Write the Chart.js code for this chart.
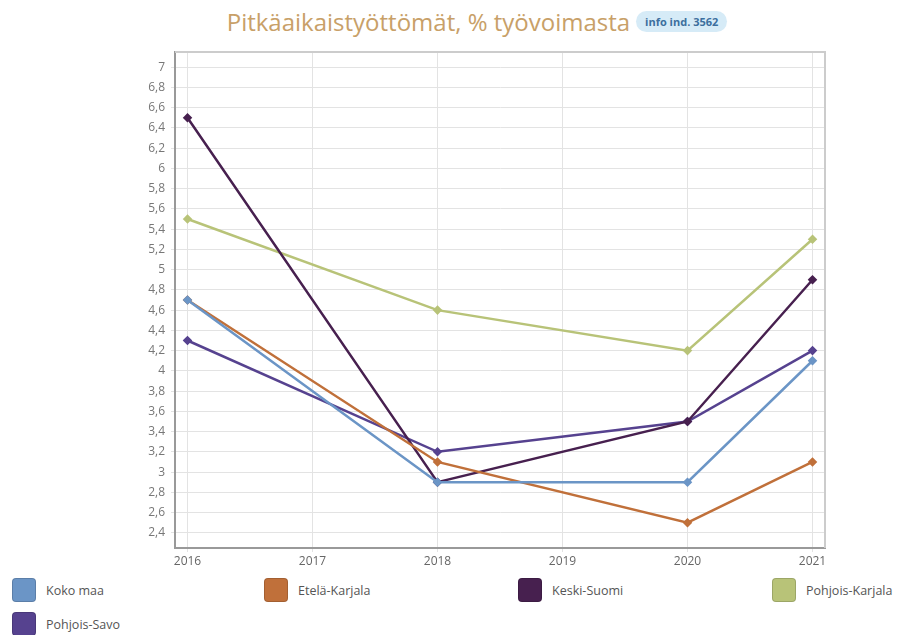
<!DOCTYPE html>
<html><head><meta charset="utf-8">
<script src="https://cdn.jsdelivr.net/npm/chart.js@4"></script>
<style>
html,body{margin:0;padding:0;background:#fff;width:904px;height:635px;overflow:hidden;font-family:"Open Sans",sans-serif;}
#title{position:absolute;left:0;top:5px;width:904px;text-align:center;white-space:nowrap;padding-left:50px;box-sizing:border-box;}
#title .t{font-size:24px;color:#c8a068;vertical-align:middle;}
#title .b{display:inline-block;vertical-align:middle;font-size:11px;font-weight:bold;color:#3c6f9e;background:#d6ebf7;border-radius:11px;padding:3px 9px;margin-left:6px;}
#wrap{position:absolute;left:0;top:0;width:904px;height:575px;}
#legend{position:absolute;left:0;top:578px;width:904px;}
.li{position:absolute;display:flex;align-items:center;font-size:12.5px;color:#555;}
.li .sw{width:24px;height:24px;border-radius:4px;margin-right:10px;box-sizing:border-box;border:1px solid rgba(0,0,0,0.15);}
</style></head>
<body>
<div id="title"><span class="t">Pitkäaikaistyöttömät, % työvoimasta</span><span class="b">info ind. 3562</span></div>
<div id="wrap"><canvas id="c" width="904" height="575"></canvas></div>
<div id="legend"></div>
<script>
const years = [2016, 2017, 2018, 2019, 2020, 2021];
const seriesNames = ["Koko maa", "Etelä-Karjala", "Keski-Suomi", "Pohjois-Karjala", "Pohjois-Savo"];
const kokoMaa        = [4.7, null, 2.9, null, 2.9, 4.1];
const etelaKarjala   = [4.7, null, 3.1, null, 2.5, 3.1];
const keskiSuomi     = [6.5, null, 2.9, null, 3.5, 4.9];
const pohjoisKarjala = [5.5, null, 4.6, null, 4.2, 5.3];
const pohjoisSavo    = [4.3, null, 3.2, null, 3.5, 4.2];
const yTicks = [2.4,2.6,2.8,3,3.2,3.4,3.6,3.8,4,4.2,4.4,4.6,4.8,5,5.2,5.4,5.6,5.8,6,6.2,6.4,6.6,6.8,7];
const colors = ["#6b95c6", "#c0703a", "#47204f", "#b8c378", "#56428f"];
const seriesData = [kokoMaa, etelaKarjala, keskiSuomi, pohjoisKarjala, pohjoisSavo];

const datasets = seriesNames.map((n,i)=>({
  label:n,
  data: years.map((y,j)=> seriesData[i][j]===null?null:{x:y,y:seriesData[i][j]}).filter(p=>p),
  borderColor:colors[i], backgroundColor:colors[i],
  borderWidth:2.5, pointRadius:3, pointStyle:'rectRot', tension:0, spanGaps:true
}));

new Chart(document.getElementById('c'), {
  type:'line',
  data:{datasets},
  options:{
    responsive:false, animation:false,
    layout:{padding:{top:52,right:79,left:0,bottom:0}},
    plugins:{legend:{display:false},tooltip:{enabled:false}},
    scales:{
      x:{type:'linear', min:2015.9, max:2021.1,
        afterFit(s){s.height=27;},
        afterBuildTicks(s){s.ticks=years.map(v=>({value:v}));},
        ticks:{color:'#666',font:{family:'Open Sans',size:12},padding:2,callback:v=>String(v),maxRotation:0},
        grid:{color:'#e3e3e3',drawTicks:true,tickLength:4},
        border:{color:'#999',width:2}
      },
      y:{type:'linear', min:2.25, max:7.15,
        afterFit(s){s.width=175;},
        afterBuildTicks(s){s.ticks=yTicks.map(v=>({value:v}));},
        ticks:{color:'#777',font:{family:'Open Sans',size:12},padding:6,callback:v=>String(Math.round(v*10)/10).replace('.',',')},
        grid:{color:'#e3e3e3',drawTicks:true,tickLength:4},
        border:{color:'#999',width:2}
      }
    }
  },
  plugins:[{id:'frame',afterDraw(ch){const a=ch.chartArea,c=ch.ctx;c.save();c.strokeStyle='#ccc';c.lineWidth=2;c.beginPath();c.moveTo(a.left,a.top);c.lineTo(a.right,a.top);c.lineTo(a.right,a.bottom);c.stroke();c.restore();}}]
});

const legendX = [12, 264, 518, 772];
const lg = document.getElementById('legend');
seriesNames.forEach((n,i)=>{
  const d=document.createElement('div');d.className='li';
  d.style.left=legendX[i%4]+'px';d.style.top=(Math.floor(i/4)*34)+'px';
  d.innerHTML='<span class="sw" style="background:'+colors[i]+'"></span><span>'+n+'</span>';
  lg.appendChild(d);
});
</script>
</body></html>
